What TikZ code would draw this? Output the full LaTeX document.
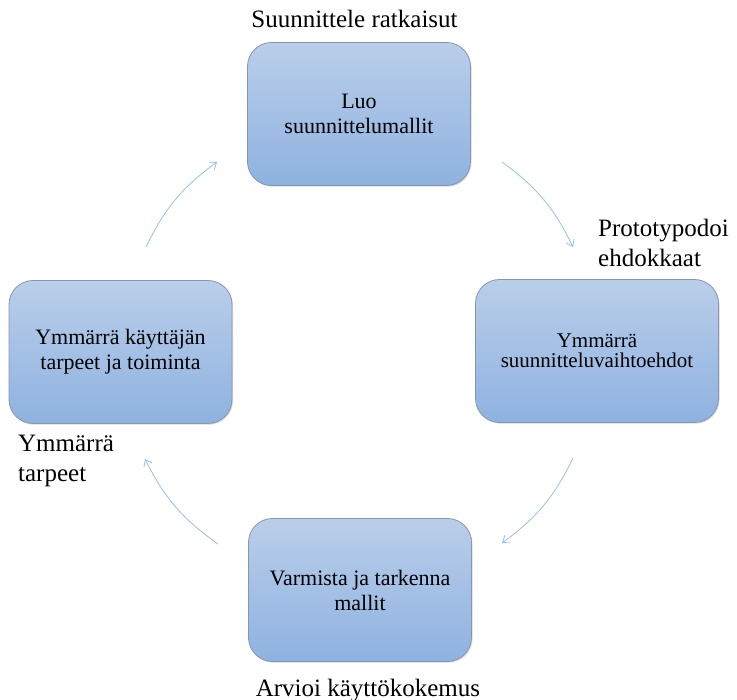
\documentclass[tikz,border=0pt]{standalone}
\usepackage{fontspec}
\setmainfont{Liberation Serif}
\usetikzlibrary{arrows.meta,shadows}
\definecolor{boxtop}{RGB}{186,206,234}
\definecolor{boxbot}{RGB}{142,178,224}
\definecolor{boxline}{RGB}{135,150,175}
\definecolor{arrowc}{RGB}{150,192,230}
\tikzset{
  box/.style={rounded corners=24pt, draw=boxline, line width=0.8pt,
    top color=boxtop, bottom color=boxbot,
    drop shadow={opacity=0.3, shadow xshift=1pt, shadow yshift=-1.2pt},
    minimum width=223pt, minimum height=143pt, align=center, inner sep=0pt,
    font=\fontsize{22}{25}\selectfont},
  lbl/.style={anchor=base west, inner sep=0pt, font=\fontsize{25}{30}\selectfont},
  cyc/.style={draw=arrowc, line width=0.8pt, -{Straight Barb[length=6pt,width=9pt]}}
}
\begin{document}
\begin{tikzpicture}[x=1pt,y=-1pt]
\useasboundingbox (0,0) rectangle (737,700);
\node[box] (top) at (359,114) {Luo\\suunnittelumallit};
\node[box, minimum width=243pt, font=\fontsize{21}{20}\selectfont] (right) at (597,351) {Ymmärrä\\suunnitteluvaihtoehdot};
\node[box] (bottom) at (360,590) {Varmista ja tarkenna\\mallit};
\node[box] (left) at (120.5,352) {Ymmärrä käyttäjän\\tarpeet ja toiminta};

\node[lbl, anchor=base] (ltop) at (354.5,28) {Suunnittele ratkaisut};
\node[lbl] (lright1) at (598,237) {Prototypodoi};
\node[lbl] (lright2) at (598,267) {ehdokkaat};
\node[lbl, anchor=base] (lbottom) at (368,696) {Arvioi käyttökokemus};
\node[lbl] (lleft1) at (18,452) {Ymmärrä};
\node[lbl] (lleft2) at (18,482) {tarpeet};

\coordinate (a1s) at (146,247); \coordinate (a1e) at (217,162);
\coordinate (a2s) at (502,162); \coordinate (a2e) at (573,247);
\coordinate (a3s) at (573,458); \coordinate (a3e) at (502,543);
\coordinate (a4s) at (218,544); \coordinate (a4e) at (145,459);
\draw[cyc] (a1s) to[bend left=14] (a1e);
\draw[cyc] (a2s) to[bend left=14] (a2e);
\draw[cyc] (a3s) to[bend left=14] (a3e);
\draw[cyc] (a4s) to[bend left=14] (a4e);
\end{tikzpicture}
\end{document}
